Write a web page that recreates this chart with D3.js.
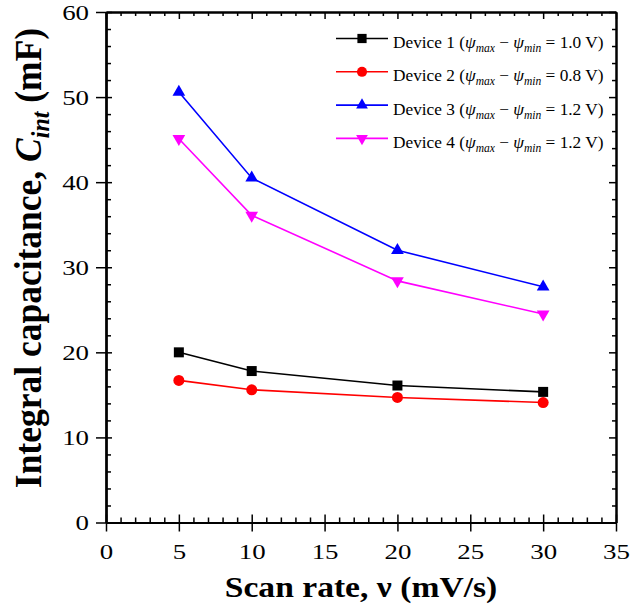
<!DOCTYPE html>
<html>
<head>
<meta charset="utf-8">
<script src="https://cdn.jsdelivr.net/npm/d3@7"></script>
<style>
  body { margin: 0; background: #fff; }
  svg text { font-family: 'Liberation Serif', 'DejaVu Serif', serif; }
</style>
</head>
<body>
<svg id="chart" width="630" height="612"></svg>
<script>
// ---- data ----
const scanRates = [5, 10, 20, 30];
const device1 = [20.0, 17.8, 16.1, 15.35];
const device2 = [16.7, 15.6, 14.7, 14.1];
const device3 = [50.6, 40.5, 32.0, 27.7];
const device4 = [45.1, 36.1, 28.4, 24.5];
const seriesNames = ["Device 1", "Device 2", "Device 3", "Device 4"];
const seriesDelta = ["1.0", "0.8", "1.2", "1.2"];
const seriesColors = ["#000000", "#ff0000", "#0000ff", "#ff00ff"];
const xTicks = [0, 5, 10, 15, 20, 25, 30, 35];
const yTicks = [0, 10, 20, 30, 40, 50, 60];

const seriesValues = [device1, device2, device3, device4];
const symbols = [
  {type: d3.symbolSquare, size: 100, rot: 0},
  {type: d3.symbolCircle, size: 95, rot: 0},
  {type: d3.symbolTriangle, size: 70, rot: 0},
  {type: d3.symbolTriangle, size: 70, rot: 180}
];

const FONT = "'Liberation Serif', 'DejaVu Serif', serif";
const SX = 1.28; // horizontal stretch of tick labels in the reference
const svg = d3.select("#chart");
const L = 106, R = 616, T = 12, B = 522.5;
const x = d3.scaleLinear().domain([0, 35]).range([L, R]);
const y = d3.scaleLinear().domain([0, 60]).range([B, T]);

const xMinor = d3.range(0, 36, 1).filter(v => v % 5 !== 0);
const yMinor = d3.range(0, 61, 2).filter(v => v % 10 !== 0);

function styleAxis(g, labels) {
  g.attr("font-family", null).attr("font-size", null);
  g.selectAll("path.domain").attr("stroke", "#000").attr("stroke-width", 2);
  g.selectAll(".tick line").attr("stroke", "#000").attr("stroke-width", 1.5);
  if (!labels) g.selectAll(".tick text").remove();
  else g.selectAll(".tick text").attr("font-size", 21).attr("fill", "#000")
        .style("font-family", FONT);
}

// bottom axis: outward major with labels
const gB = svg.append("g").attr("transform", `translate(0,${B})`)
  .call(d3.axisBottom(x).tickValues(xTicks).tickSize(9).tickSizeOuter(0).tickPadding(8).tickFormat(d3.format("d")));
styleAxis(gB, true);
gB.selectAll(".tick text").attr("dy", null).attr("y", 36.5).attr("transform", `scale(${SX},1)`);
svg.append("g").attr("transform", `translate(0,${B})`)
  .call(d3.axisBottom(x).tickValues(xTicks).tickSize(-8).tickSizeOuter(0)).call(g => styleAxis(g, false));
svg.append("g").attr("transform", `translate(0,${B})`)
  .call(d3.axisBottom(x).tickValues(xMinor).tickSize(-5).tickSizeOuter(0)).call(g => styleAxis(g, false));

// left axis
const gL = svg.append("g").attr("transform", `translate(${L},0)`)
  .call(d3.axisLeft(y).tickValues(yTicks).tickSize(10).tickSizeOuter(0).tickPadding(6).tickFormat(d3.format("d")));
styleAxis(gL, true);
gL.selectAll(".tick text").attr("dy", "0.34em").attr("x", -17 / SX).attr("transform", `scale(${SX},1)`);
svg.append("g").attr("transform", `translate(${L},0)`)
  .call(d3.axisLeft(y).tickValues(yTicks).tickSize(-6).tickSizeOuter(0)).call(g => styleAxis(g, false));
svg.append("g").attr("transform", `translate(${L},0)`)
  .call(d3.axisLeft(y).tickValues(yMinor).tickSize(-5).tickSizeOuter(0)).call(g => styleAxis(g, false));

// top axis (mirror, inward)
svg.append("g").attr("transform", `translate(0,${T})`)
  .call(d3.axisTop(x).tickValues(xTicks).tickSize(-7).tickSizeOuter(0)).call(g => styleAxis(g, false));
svg.append("g").attr("transform", `translate(0,${T})`)
  .call(d3.axisTop(x).tickValues(xMinor).tickSize(-4).tickSizeOuter(0)).call(g => styleAxis(g, false));

// right axis (mirror, inward)
svg.append("g").attr("transform", `translate(${R},0)`)
  .call(d3.axisRight(y).tickValues(yTicks).tickSize(-7).tickSizeOuter(0)).call(g => styleAxis(g, false));
svg.append("g").attr("transform", `translate(${R},0)`)
  .call(d3.axisRight(y).tickValues(yMinor).tickSize(-4).tickSizeOuter(0)).call(g => styleAxis(g, false));

// series
const line = d3.line().x(d => x(d[0])).y(d => y(d[1]));
seriesValues.forEach((vals, i) => {
  const pts = scanRates.map((s, j) => [s, vals[j]]);
  svg.append("path").datum(pts).attr("d", line)
    .attr("fill", "none").attr("stroke", seriesColors[i]).attr("stroke-width", 1.6);
  const sym = d3.symbol().type(symbols[i].type).size(symbols[i].size);
  svg.append("g").selectAll("path").data(pts).join("path")
    .attr("d", sym)
    .attr("transform", d => `translate(${x(d[0])},${y(d[1])}) rotate(${symbols[i].rot})`)
    .attr("fill", seriesColors[i]);
});

// legend
const leg = svg.append("g");
seriesNames.forEach((name, i) => {
  const ly = 38.5 + i * 33.3;
  leg.append("line").attr("x1", 336).attr("x2", 388).attr("y1", ly).attr("y2", ly)
    .attr("stroke", seriesColors[i]).attr("stroke-width", 1.6);
  const sym = d3.symbol().type(symbols[i].type).size(symbols[i].size * 0.85);
  leg.append("path").attr("d", sym)
    .attr("transform", `translate(362,${ly}) rotate(${symbols[i].rot})`)
    .attr("fill", seriesColors[i]);
  const t = leg.append("text").attr("x", 393).attr("y", ly + 9.5)
    .attr("font-size", 17.3).attr("fill", "#000").style("font-family", FONT);
  t.append("tspan").text(name + " (");
  t.append("tspan").attr("font-style", "italic").text("ψ");
  t.append("tspan").attr("font-style", "italic").attr("font-size", 11.5).attr("dy", 4).text("max");
  t.append("tspan").attr("dy", -4).text(" − ");
  t.append("tspan").attr("font-style", "italic").text("ψ");
  t.append("tspan").attr("font-style", "italic").attr("font-size", 11.5).attr("dy", 4).text("min");
  t.append("tspan").attr("dy", -4).text(" = " + seriesDelta[i] + " V)");
});

// axis titles
svg.append("text").attr("transform", `translate(361,597) scale(1.12,1)`).attr("text-anchor", "middle")
  .style("font-family", FONT)
  .attr("font-size", 30).attr("font-weight", "bold").text("Scan rate, ν (mV/s)");

const yt = svg.append("text").attr("transform", `translate(41,258) rotate(-90) scale(1,1.08)`)
  .style("font-family", FONT)
  .attr("text-anchor", "middle").attr("font-size", 35.5).attr("font-weight", "bold");
yt.append("tspan").text("Integral capacitance, ");
yt.append("tspan").attr("font-style", "italic").text("C");
yt.append("tspan").attr("font-style", "italic").attr("font-size", 24).attr("dy", 7).text("int");
yt.append("tspan").attr("dy", -7).text(" (mF)");
</script>
</body>
</html>
